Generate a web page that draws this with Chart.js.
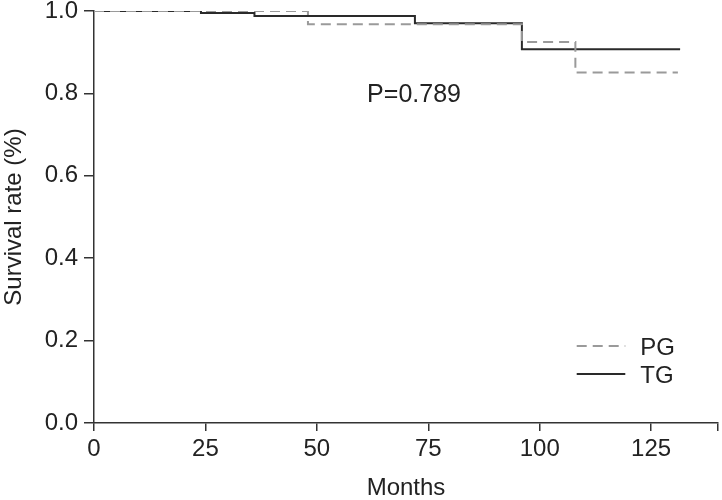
<!DOCTYPE html>
<html>
<head>
<meta charset="utf-8">
<script src="https://cdn.jsdelivr.net/npm/chart.js@4"></script>
<style>
html,body{margin:0;padding:0;background:#fff;}
#wrap{width:722px;height:500px;position:relative;}
</style>
</head>
<body>
<div id="wrap"><canvas id="c" width="722" height="500"></canvas></div>
<script>
const xTicks = [0, 25, 50, 75, 100, 125];
const yTicks = [0.0, 0.2, 0.4, 0.6, 0.8, 1.0];
const tgMonths = [0, 24, 36, 72, 96, 131.5];
const tgSurvival = [1.0, 0.995, 0.988, 0.970, 0.907, 0.907];
const pgMonths = [0, 48, 96, 108, 131];
const pgSurvival = [1.0, 0.968, 0.925, 0.851, 0.851];
const pValueText = 'P=0.789';

const FONT = "'Liberation Sans', Arial, sans-serif";
const axisColor = '#333';
const textColor = '#222';

const toPts = (xs, ys) => xs.map((x, i) => ({x: x, y: ys[i]}));

const overlay = {
  id: 'overlay',
  afterDatasetsDraw(chart) {
    const ctx = chart.ctx;
    const xs = chart.scales.x, ys = chart.scales.y;
    ctx.save();
    ctx.fillStyle = textColor;
    ctx.font = '25px ' + FONT;
    ctx.textAlign = 'center';
    ctx.textBaseline = 'middle';
    ctx.fillText(pValueText, xs.getPixelForValue(71.8), ys.getPixelForValue(0.797));
    // legend
    const x0 = xs.getPixelForValue(108.3), x1 = xs.getPixelForValue(119.2);
    const yPos = [ys.getPixelForValue(0.187), ys.getPixelForValue(0.119)];
    chart.data.datasets.forEach((d, i) => {
      ctx.beginPath();
      ctx.strokeStyle = d.borderColor;
      ctx.lineWidth = d.borderWidth;
      ctx.setLineDash(d.borderDash || []);
      ctx.moveTo(x0, yPos[i]);
      ctx.lineTo(x1, yPos[i]);
      ctx.stroke();
      ctx.setLineDash([]);
      ctx.textAlign = 'left';
      ctx.fillStyle = textColor;
      ctx.font = '24px ' + FONT;
      ctx.fillText(d.label, x1 + 15, yPos[i] + 2);
    });
    ctx.restore();
  }
};

new Chart(document.getElementById('c'), {
  type: 'line',
  data: {
    datasets: [
      {
        label: 'PG',
        data: toPts(pgMonths, pgSurvival),
        borderColor: '#9a9a9a',
        borderWidth: 2,
        borderDash: [10, 6],
        stepped: 'before',
        pointRadius: 0,
        fill: false
      },
      {
        label: 'TG',
        data: toPts(tgMonths, tgSurvival),
        borderColor: '#2a2a2a',
        borderWidth: 2,
        stepped: 'before',
        pointRadius: 0,
        fill: false
      }
    ]
  },
  options: {
    responsive: false,
    animation: false,
    layout: {padding: {left: 0, right: 4, top: 11, bottom: 0}},
    plugins: {legend: {display: false}, tooltip: {enabled: false}},
    scales: {
      x: {
        type: 'linear',
        min: 0, max: 140,
        afterBuildTicks(scale) {
          scale.ticks = xTicks.map(v => ({value: v})).concat([{value: 140}]);
        },
        afterFit(scale) { scale.height = 77; scale.paddingLeft = 0; scale.paddingRight = 0; },
        ticks: {
          color: textColor,
          font: {family: FONT, size: 24, lineHeight: 1.2},
          padding: 4,
          maxRotation: 0,
          autoSkip: false,
          callback: v => (xTicks.includes(v) ? String(v) : '')
        },
        grid: {display: true, drawOnChartArea: false, drawTicks: true, tickLength: 8, color: axisColor, lineWidth: 1.5},
        border: {display: true, color: axisColor, width: 1.5},
        title: {display: true, text: 'Months', color: textColor, font: {family: FONT, size: 24, lineHeight: 1}, padding: {top: 0, bottom: 0}}
      },
      y: {
        type: 'linear',
        min: 0, max: 1,
        afterBuildTicks(scale) {
          scale.ticks = yTicks.map(v => ({value: v}));
        },
        afterFit(scale) { scale.width = 94; scale.paddingTop = 0; scale.paddingBottom = 0; },
        ticks: {
          color: textColor,
          font: {family: FONT, size: 24, lineHeight: 1.2},
          padding: 6,
          autoSkip: false,
          callback: v => v.toFixed(1)
        },
        grid: {display: true, drawOnChartArea: false, drawTicks: true, tickLength: 10, color: axisColor, lineWidth: 1.5},
        border: {display: true, color: axisColor, width: 1.5},
        title: {display: true, text: 'Survival rate (%)', color: textColor, font: {family: FONT, size: 24, lineHeight: 1.2}, padding: {top: 0, bottom: 0}}
      }
    }
  },
  plugins: [overlay]
});
</script>
</body>
</html>
